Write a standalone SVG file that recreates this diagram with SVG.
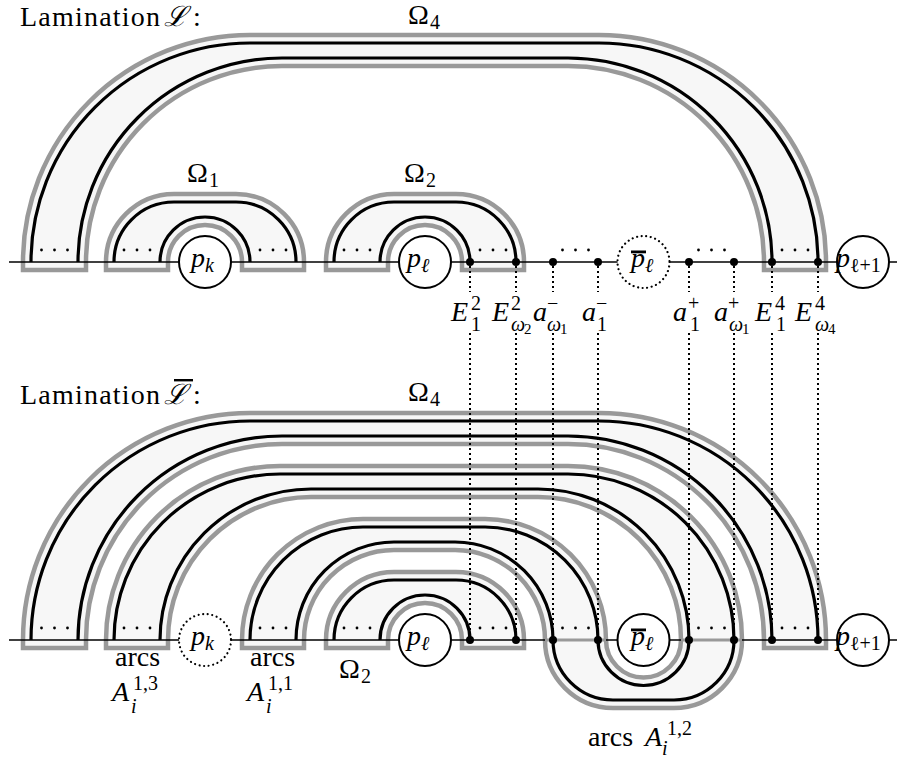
<svg xmlns="http://www.w3.org/2000/svg" width="897" height="761" viewBox="0 0 897 761">
<defs>
<style>
.band{fill:#f7f7f7;stroke:#999;stroke-width:4.5;stroke-linejoin:miter}
.arc{fill:none;stroke:#000;stroke-width:3.2}
.base{stroke:#000;stroke-width:1.6;fill:none}
.gb{stroke:#999;stroke-width:3;fill:none}
.node{fill:#fff;stroke:#000;stroke-width:2}
.dnode{fill:#fff;stroke:#000;stroke-width:2.2;stroke-dasharray:0.01 4.6;stroke-linecap:round}
.conn{stroke:#000;stroke-width:2;stroke-dasharray:2 3;fill:none}
.pt{fill:#000}
.bar{fill:#000}
.f{font-family:'Liberation Serif','Times New Roman',serif;fill:#000;font-size:28px}
.i{font-style:italic}
.s{font-size:20px}
.ss{font-size:15px}
.scr{font-family:'DejaVu Serif','Liberation Serif',serif;font-style:italic;font-size:28px;fill:#000}
.mid{text-anchor:middle}
</style>
<g id="d3"><circle cx="-13" cy="0" r="1.4"/><circle cx="0" cy="0" r="1.4"/><circle cx="13" cy="0" r="1.4"/></g>
</defs>

<g id="top-omega4">
<path class="band" d="M23,270 L23,262 A227,227 0 0 1 250,35 L599,35 A227,227 0 0 1 826,262 L826,270 L764,270 L764,262 A196,196 0 0 0 568,66 L282,66 A196,196 0 0 0 86,262 L86,270 Z"/>
<path class="arc" d="M31,262 A219,219 0 0 1 250,43 L599,43 A219,219 0 0 1 818,262"/>
<path class="arc" d="M78,262 A204,204 0 0 1 282,58 L568,58 A204,204 0 0 1 772,262"/>
</g>
<g id="top-omega1">
<path class="band" d="M106,270 L106,262 A68,68 0 0 1 174,194 L236,194 A68,68 0 0 1 304,262 L304,270 L242,270 L242,262 A37,37 0 0 0 168,262 L168,270 Z"/>
<path class="arc" d="M114,262 A60,60 0 0 1 174,202 L236,202 A60,60 0 0 1 296,262"/>
<path class="arc" d="M160,262 A45,45 0 0 1 250,262"/>
</g>
<g id="top-omega2">
<path class="band" d="M326,270 L326,262 A68,68 0 0 1 394,194 L456,194 A68,68 0 0 1 524,262 L524,270 L462,270 L462,262 A37,37 0 0 0 388,262 L388,270 Z"/>
<path class="arc" d="M334,262 A60,60 0 0 1 394,202 L456,202 A60,60 0 0 1 516,262"/>
<path class="arc" d="M380,262 A45,45 0 0 1 470,262"/>
</g>
<g id="top-ellipses">
<use href="#d3" x="54.5" y="250"/><use href="#d3" x="137" y="250"/><use href="#d3" x="273" y="250"/><use href="#d3" x="357" y="250"/>
<use href="#d3" x="493" y="250"/><use href="#d3" x="575.5" y="250"/><use href="#d3" x="711.5" y="250"/><use href="#d3" x="795" y="250"/>
</g>
<line id="top-baseline" class="base" x1="9" y1="262" x2="897" y2="262"/>

<g id="bot-omega4" transform="translate(0,378)">
<path class="band" d="M23,270 L23,262 A227,227 0 0 1 250,35 L599,35 A227,227 0 0 1 826,262 L826,270 L764,270 L764,262 A196,196 0 0 0 568,66 L282,66 A196,196 0 0 0 86,262 L86,270 Z"/>
<path class="arc" d="M31,262 A219,219 0 0 1 250,43 L599,43 A219,219 0 0 1 818,262"/>
<path class="arc" d="M78,262 A204,204 0 0 1 282,58 L568,58 A204,204 0 0 1 772,262"/>
</g>
<g id="bot-arcs-A1">
<path class="band" d="M106,648 L106,640 A174,174 0 0 1 280,466 L568,466 A174,174 0 0 1 742,640 A68,68 0 0 1 674,708 L613,708 A68,68 0 0 1 545,640 A90,90 0 0 0 455,550 L394,550 A90,90 0 0 0 304,640 L304,648 L242,648 L242,640 A121,121 0 0 1 363,519 L485,519 A121,121 0 0 1 606,640 A37.5,37.5 0 0 0 681,640 A143,143 0 0 0 538,497 L311,497 A143,143 0 0 0 168,640 L168,648 Z"/>
<path class="arc" d="M114,640 A166,166 0 0 1 280,474 L568,474 A166,166 0 0 1 734,640 A60,60 0 0 1 674,700 L613,700 A60,60 0 0 1 553,640 A98,98 0 0 0 455,542 L394,542 A98,98 0 0 0 296,640"/>
<path class="arc" d="M160,640 A151,151 0 0 1 311,489 L538,489 A151,151 0 0 1 689,640 A45.5,45.5 0 0 1 598,640 A113,113 0 0 0 485,527 L363,527 A113,113 0 0 0 250,640"/>
</g>
<g id="bot-omega2" transform="translate(0,378)">
<path class="band" d="M326,270 L326,262 A68,68 0 0 1 394,194 L456,194 A68,68 0 0 1 524,262 L524,270 L462,270 L462,262 A37,37 0 0 0 388,262 L388,270 Z"/>
<path class="arc" d="M334,262 A60,60 0 0 1 394,202 L456,202 A60,60 0 0 1 516,262"/>
<path class="arc" d="M380,262 A45,45 0 0 1 470,262"/>
</g>
<g id="bot-ellipses">
<use href="#d3" x="54.5" y="628"/><use href="#d3" x="137" y="628"/><use href="#d3" x="273" y="628"/><use href="#d3" x="357" y="628"/>
<use href="#d3" x="493" y="628"/><use href="#d3" x="575.5" y="628"/><use href="#d3" x="711.5" y="628"/><use href="#d3" x="795" y="628"/>
</g>
<line id="bot-baseline" class="base" x1="9" y1="640" x2="897" y2="640"/>
<path class="gb" d="M545,640 L606,640 M681,640 L742,640"/>

<g id="connectors">
<path class="conn" d="M470,266 V292 M470,333 V636"/>
<path class="conn" d="M516,266 V292 M516,333 V636"/>
<path class="conn" d="M553,266 V292 M553,333 V636"/>
<path class="conn" d="M598,266 V292 M598,333 V636"/>
<path class="conn" d="M689,266 V292 M689,333 V636"/>
<path class="conn" d="M734,266 V292 M734,333 V636"/>
<path class="conn" d="M772,266 V292 M772,333 V636"/>
<path class="conn" d="M818,266 V292 M818,333 V636"/>
</g>

<g id="top-pk"><circle class="node" cx="205" cy="262" r="26"/>
<text class="f i" x="191" y="267">p</text><text class="f i s" x="205" y="272">k</text></g>
<g id="top-pl"><circle class="node" cx="425" cy="262" r="26"/>
<text class="f i" x="407" y="267">p</text><text class="f i s" x="421" y="272">ℓ</text></g>
<g id="top-plbar"><circle class="dnode" cx="643.5" cy="262" r="26"/>
<rect class="bar" x="631" y="250.5" width="15" height="2.8"/>
<text class="f i" x="631" y="267">p</text><text class="f i s" x="645" y="272">ℓ</text></g>
<g id="top-pl1"><circle class="node" cx="863" cy="262" r="26"/>
<text class="f i" x="836" y="267">p</text><text class="f s" x="850" y="272">ℓ+1</text></g>

<g id="top-points">
<circle class="pt" cx="470" cy="262" r="4"/><circle class="pt" cx="516" cy="262" r="4"/>
<circle class="pt" cx="553" cy="262" r="4"/><circle class="pt" cx="598" cy="262" r="4"/>
<circle class="pt" cx="689" cy="262" r="4"/><circle class="pt" cx="734" cy="262" r="4"/>
<circle class="pt" cx="772" cy="262" r="4"/><circle class="pt" cx="818" cy="262" r="4"/>
</g>

<g id="bot-pk"><circle class="dnode" cx="205" cy="640" r="26"/>
<text class="f i" x="191" y="645">p</text><text class="f i s" x="205" y="650">k</text></g>
<g id="bot-pl"><circle class="node" cx="425" cy="640" r="26"/>
<text class="f i" x="407" y="645">p</text><text class="f i s" x="421" y="650">ℓ</text></g>
<g id="bot-plbar"><circle class="node" cx="643.5" cy="640" r="26"/>
<rect class="bar" x="631" y="628.5" width="15" height="2.8"/>
<text class="f i" x="631" y="645">p</text><text class="f i s" x="645" y="650">ℓ</text></g>
<g id="bot-pl1"><circle class="node" cx="863" cy="640" r="26"/>
<text class="f i" x="836" y="645">p</text><text class="f s" x="850" y="650">ℓ+1</text></g>

<g id="bot-points">
<circle class="pt" cx="470" cy="640" r="4"/><circle class="pt" cx="516" cy="640" r="4"/>
<circle class="pt" cx="553" cy="640" r="4"/><circle class="pt" cx="598" cy="640" r="4"/>
<circle class="pt" cx="689" cy="640" r="4"/><circle class="pt" cx="734" cy="640" r="4"/>
<circle class="pt" cx="772" cy="640" r="4"/><circle class="pt" cx="818" cy="640" r="4"/>
</g>

<g id="title-top">
<text class="f" x="20" y="26" textLength="140" lengthAdjust="spacing">Lamination</text>
<text class="scr" x="164" y="26">ℒ</text><text class="f" x="193" y="26">:</text>
</g>
<g id="title-bottom">
<text class="f" x="20" y="404" textLength="140" lengthAdjust="spacing">Lamination</text>
<text class="scr" x="164" y="404">ℒ</text><text class="f" x="193" y="404">:</text>
<rect class="bar" x="174" y="379" width="19" height="2.4"/>
</g>
<g id="omega-labels">
<text class="f" x="408" y="24">Ω</text><text class="f s" x="430" y="29">4</text>
<text class="f" x="187" y="182">Ω</text><text class="f s" x="209" y="187">1</text>
<text class="f" x="404" y="182">Ω</text><text class="f s" x="426" y="187">2</text>
<text class="f" x="408" y="401">Ω</text><text class="f s" x="430" y="406">4</text>
<text class="f" x="339" y="678">Ω</text><text class="f s" x="361" y="683">2</text>
</g>
<g id="point-labels">
<g id="lbl-E12"><text class="f i" x="451" y="321">E</text><text class="f s" x="471" y="310">2</text><text class="f s" x="471" y="331">1</text></g>
<g id="lbl-E2w"><text class="f i" x="492" y="321">E</text><text class="f s" x="511" y="310">2</text><text class="f s i" x="511" y="331">ω</text><text class="f ss" x="524" y="334">2</text></g>
<g id="lbl-amw"><text class="f i" x="533" y="321">a</text><text class="f s" x="547" y="310">−</text><text class="f s i" x="547" y="331">ω</text><text class="f ss" x="560" y="334">1</text></g>
<g id="lbl-am1"><text class="f i" x="582" y="321">a</text><text class="f s" x="596" y="310">−</text><text class="f s" x="597" y="331">1</text></g>
<g id="lbl-ap1"><text class="f i" x="673" y="321">a</text><text class="f s" x="688" y="310">+</text><text class="f s" x="690" y="331">1</text></g>
<g id="lbl-apw"><text class="f i" x="714" y="321">a</text><text class="f s" x="728" y="310">+</text><text class="f s i" x="729" y="331">ω</text><text class="f ss" x="742" y="334">1</text></g>
<g id="lbl-E41"><text class="f i" x="755" y="321">E</text><text class="f s" x="775" y="310">4</text><text class="f s" x="776" y="331">1</text></g>
<g id="lbl-E4w"><text class="f i" x="795" y="321">E</text><text class="f s" x="815" y="310">4</text><text class="f s i" x="815" y="331">ω</text><text class="f ss" x="828" y="334">4</text></g>
</g>
<g id="arc-labels">
<g id="lbl-A13"><text class="f mid" x="137.5" y="666">arcs</text><text class="f i" x="112" y="701">A</text><text class="f s" x="133" y="690">1,3</text><text class="f s i" x="131" y="713">i</text></g>
<g id="lbl-A11"><text class="f mid" x="272.5" y="666">arcs</text><text class="f i" x="247" y="701">A</text><text class="f s" x="268" y="690">1,1</text><text class="f s i" x="266" y="713">i</text></g>
<g id="lbl-A12"><text class="f" x="588" y="746">arcs</text><text class="f i" x="645" y="746">A</text><text class="f s" x="667" y="735">1,2</text><text class="f s i" x="662" y="755">i</text></g>
</g>
</svg>
